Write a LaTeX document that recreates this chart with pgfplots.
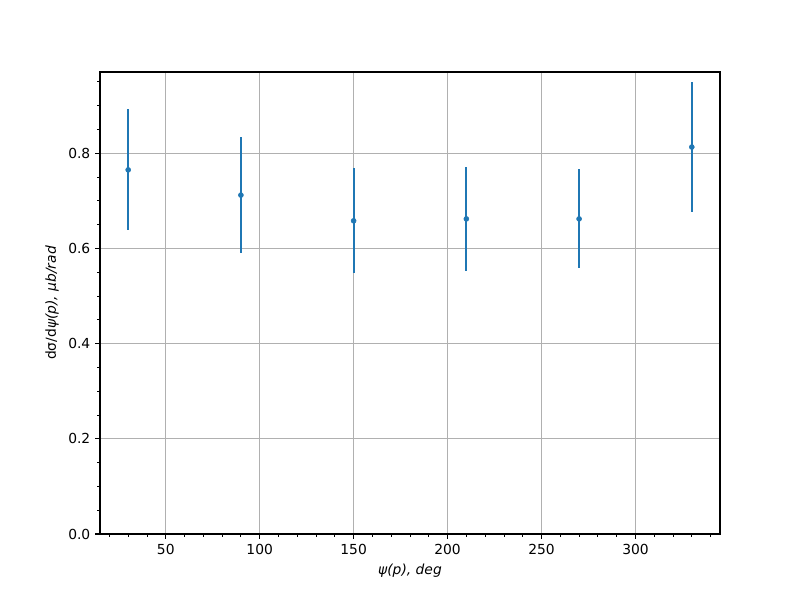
\documentclass[border=0pt]{standalone}
\usepackage{fontspec}
\setmainfont{DejaVu Sans}
\usepackage{pgfplots}
\pgfplotsset{compat=1.18}
\definecolor{mplblue}{HTML}{1F77B4}
\definecolor{mplgrid}{HTML}{B0B0B0}

\begin{document}
\fontsize{10}{12}\selectfont
\begin{tikzpicture}
  \begin{axis}[
      scale only axis,
      width=6.2in,
      height=4.62in,
      xmin=15, xmax=345,
      ymin=0, ymax=0.9706,
      xtick={50,100,...,300},
      ytick={0,0.2,...,0.8},
      minor xtick={20,30,...,340},
      minor ytick={0.05,0.1,...,0.95},
      yticklabel style={/pgf/number format/.cd, fixed, fixed zerofill, precision=1},
      /pgf/number format/assume math mode=true,
      tick align=outside,
      tick pos=left,
      major tick length=3.5pt,
      minor tick length=2pt,
      major tick style={black, line width=0.8pt},
      minor tick style={black, line width=0.6pt},
      axis line style={line width=0.8pt},
      grid=major,
      major grid style={mplgrid, line width=0.8pt},
      ticklabel style={font=\fontsize{10}{12}\selectfont},
      xlabel={\itshape ψ(p), deg},
      ylabel={dσ/d\itshape ψ(p), μb/rad},
      label style={font=\fontsize{10}{12}\selectfont},
    ]
    \addplot[
      only marks,
      mark=*,
      mark size=1.8pt,
      mplblue,
      error bars/.cd,
      y dir=both,
      y explicit,
      error mark=none,
      error bar style={line width=1.5pt, mplblue},
    ] table[x=x, y=y, y error=e] {
      x   y     e
      30  0.765 0.127
      90  0.712 0.121
      150 0.658 0.110
      210 0.662 0.109
      270 0.662 0.104
      330 0.813 0.137
    };
  \end{axis}
  \path[use as bounding box] (current axis.south west) ++(-1in,-0.66in) rectangle ++(8in,6in);
\end{tikzpicture}
\end{document}
